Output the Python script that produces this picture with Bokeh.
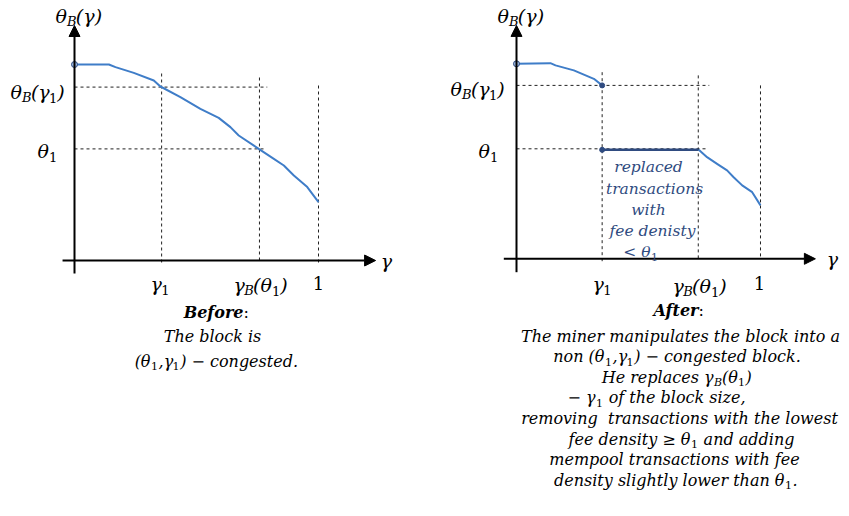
from bokeh.plotting import figure
from bokeh.layouts import row
from bokeh.models import Arrow, NormalHead, Label, Range1d
from bokeh.embed import file_html
from bokeh.resources import INLINE

NB = "\u00a0"

# ---------------- data ----------------
# Before: block fee-density curve theta_B(gamma)
before_gamma = [0.0, 0.141, 0.168, 0.243, 0.325, 0.352, 0.434, 0.516, 0.591,
                0.639, 0.673, 0.755, 0.817, 0.858, 0.899, 0.954, 1.0]
before_theta = [0.98, 0.98, 0.967, 0.938, 0.90, 0.87, 0.817, 0.758, 0.713,
                0.667, 0.625, 0.558, 0.508, 0.475, 0.425, 0.367, 0.292]
before_gamma1 = 0.357
before_gammaB = 0.758
before_theta_g1 = 0.867
before_theta1 = 0.558

# After: manipulated block
after_gamma_top = [0.0, 0.139, 0.16, 0.235, 0.317, 0.351]
after_theta_top = [0.975, 0.978, 0.967, 0.942, 0.90, 0.867]
after_gamma_flat = [0.351, 0.747]
after_theta_flat = [0.545, 0.545]
after_gamma_low = [0.747, 0.781, 0.822, 0.863, 0.890, 0.925, 0.966, 1.0]
after_theta_low = [0.545, 0.508, 0.475, 0.442, 0.408, 0.367, 0.333, 0.267]
after_gamma1 = 0.351
after_gammaB = 0.745
after_theta_g1 = 0.867
after_theta1 = 0.55

# tick-style labels as (text, is_subscript) runs
lab_theta_B_gamma = [("θ", 0), ("B", 1), ("(γ)", 0)]
lab_theta_B_gamma1 = [("θ", 0), ("B", 1), ("(γ", 0), ("1", 1), (")", 0)]
lab_gamma_B_theta1 = [("γ", 0), ("B", 1), ("(θ", 0), ("1", 1), (")", 0)]
lab_theta1 = [("θ", 0), ("1", 1)]
lab_gamma1 = [("γ", 0), ("1", 1)]

# caption texts: (anchor px, first text, following runs (text, is_sub))
before_lines = [
    (212, "The block is", []),
    (150, "(θ", [("1", 1), (",γ", 0), ("1", 1), (") − congested.", 0)]),
]
after_lines = [
    (680, "The miner manipulates the block into a", []),
    (604, "non (θ", [("1", 1), (",γ", 0), ("1", 1), (") − congested block.", 0)]),
    (713, "He replaces γ", [("B", 1), ("(θ", 0), ("1", 1), (")", 0)]),
    (595, "− γ", [("1", 1), (NB + "of the block size,", 0)]),
    (679, "removing" + NB + " transactions with the lowest", []),
    (690, "fee density ≥ θ", [("1", 1), (NB + "and adding", 0)]),
    (674, "mempool transactions with fee", []),
    (784, "density slightly lower than θ", [("1", 1), (".", 0)]),
]
note_lines = [
    (648, "replaced", []),
    (654, "transactions", []),
    (648, "with", []),
    (652, "fee denisty", []),
    (650, "< θ", [("1", 1)]),
]

CURVE = "#3F7DC8"
NAVY = "#2F4B80"
FONT = "DejaVu Serif"
EM = {"θ": 0.60, "γ": 0.56, "(": 0.39, ")": 0.39, "B": 0.69, "1": 0.64, ",": 0.32, " ": 0.32}


def make_fig(w, x0, x1, y0, y1):
    p = figure(width=w, height=516, x_range=Range1d(x0, x1), y_range=Range1d(y0, y1),
               output_backend="svg", toolbar_location=None, min_border=0,
               x_axis_location=None, y_axis_location=None)
    p.grid.visible = False
    p.outline_line_color = None
    return p


def lab(p, x, y, text, size=16, align="center", style="italic", color="black", xo=0, yo=0):
    p.add_layout(Label(x=x, y=y, text=text, text_font=FONT, text_font_style=style,
                       text_font_size=f"{size}px", text_align=align, text_baseline="middle",
                       text_color=color, x_offset=xo, y_offset=yo))


def width(t, s):
    return sum(EM.get(c, 0.5) for c in t) * s


def runs(p, x, y, parts, size=19, sub_size=13):
    off = 0.0
    for t, sub in parts:
        s = sub_size if sub else size
        style = "normal" if (sub and t.isdigit()) else "italic"
        lab(p, x, y, t, size=s, align="left", style=style, xo=off, yo=-6 if sub else 0)
        off += width(t, s)


def caption(p, fx, y, line, size=16, sub_size=11, color="black"):
    anchor, first, rest = line
    if not rest:
        lab(p, fx(anchor), y, first, size=size, align="center", color=color)
        return
    lab(p, fx(anchor), y, first, size=size, align="right", color=color)
    off = 0.5
    for t, sub in rest:
        s = sub_size if sub else size
        style = "normal" if (sub and t.isdigit()) else "italic"
        lab(p, fx(anchor), y, t, size=s, align="left", style=style, color=color,
            xo=off, yo=-5 if sub else 0)
        off += width(t, s) + (0.5 if sub else 0)


def axes(p, xa, xb, ya, yb):
    p.add_layout(Arrow(end=NormalHead(size=11, fill_color="black", line_color="black"),
                       x_start=xa, y_start=0, x_end=xb, y_end=0, line_width=2, line_color="black"))
    p.add_layout(Arrow(end=NormalHead(size=11, fill_color="black", line_color="black"),
                       x_start=0, y_start=ya, x_end=0, y_end=yb, line_width=2, line_color="black"))


def dashed(p, x0, y0, x1, y1):
    p.segment(x0=x0, y0=y0, x1=x1, y1=y1, line_color="#222222", line_width=1, line_dash="3 3")


# ---------------- left panel (Before) ----------------
L = make_fig(440, -0.3033, 1.5, -1.28, 1.30)
lx = lambda px: (px - 74) / 244
ly = lambda py: (260 - py) / 200

dashed(L, [0, 0, before_gamma1, before_gammaB, 1.0],
       [before_theta_g1, before_theta1, 0.935, 0.915, 0.875],
       [0.79, 0.783, before_gamma1, before_gammaB, 1.0],
       [before_theta_g1, before_theta1, -0.025, -0.01, -0.01])
axes(L, -0.049, 1.234, -0.065, 1.175)
L.line(before_gamma, before_theta, line_color=CURVE, line_width=2)
L.scatter([before_gamma[0]], [before_theta[0]], size=6, fill_color="#9DB8E0",
          line_color=NAVY, line_width=1)

runs(L, lx(55), ly(15), lab_theta_B_gamma)
runs(L, lx(10), ly(91), lab_theta_B_gamma1)
runs(L, lx(37), ly(150), lab_theta1)
runs(L, lx(150), ly(283), lab_gamma1)
runs(L, lx(233), ly(284), lab_gamma_B_theta1)
lab(L, lx(318), ly(282), "1", size=18, style="normal")
lab(L, lx(386), ly(260), "γ", size=19)

lab(L, lx(243), ly(312), "Before", style="bold italic", align="right")
lab(L, lx(243), ly(312), ":", style="normal", align="left")
for i, line in enumerate(before_lines):
    caption(L, lx, ly(335.5 + 25 * i), line)

# ---------------- right panel (After) ----------------
R = make_fig(409, -0.3115, 1.3648, -1.2885, 1.2915)
rx = lambda px: (px - 516) / 244
ry = lambda py: (258.3 - py) / 200

dashed(R, [0, 0, after_gamma1, after_gammaB, 1.0],
       [after_theta_g1, after_theta1, 0.933, 0.917, 0.867],
       [0.79, 0.783, after_gamma1, after_gammaB, 1.0],
       [after_theta_g1, after_theta1, -0.025, 0.0, 0.0])
axes(R, -0.052, 1.225, -0.067, 1.167)
R.line(after_gamma_top, after_theta_top, line_color=CURVE, line_width=2)
R.line(after_gamma_flat, after_theta_flat, line_color=NAVY, line_width=2.5)
R.line(after_gamma_low, after_theta_low, line_color=CURVE, line_width=2)
R.scatter([after_gamma_top[0]], [after_theta_top[0]], size=6, fill_color="#9DB8E0",
          line_color=NAVY, line_width=1)
R.scatter([after_gamma1, after_gamma1], [after_theta_top[-1], after_theta_flat[0]],
          size=5, fill_color=NAVY, line_color=NAVY)

runs(R, rx(497), ry(15), lab_theta_B_gamma)
runs(R, rx(450), ry(88), lab_theta_B_gamma1)
runs(R, rx(478), ry(150), lab_theta1)
runs(R, rx(592), ry(283), lab_gamma1)
runs(R, rx(672), ry(285), lab_gamma_B_theta1)
lab(R, rx(759), ry(282), "1", size=18, style="normal")
lab(R, rx(832), ry(258), "γ", size=19)

note_y = [166, 188, 209, 230, 251]
for line, ny in zip(note_lines, note_y):
    caption(R, rx, ry(ny), line, size=15.5, sub_size=11, color=NAVY)

lab(R, rx(698), ry(310), "After", style="bold italic", align="right")
lab(R, rx(698), ry(310), ":", style="normal", align="left")
for i, line in enumerate(after_lines):
    caption(R, rx, ry(335.5 + 20.6 * i), line)

layout = row(L, R, spacing=0)
open("out.html", "w").write(file_html(layout, INLINE))
